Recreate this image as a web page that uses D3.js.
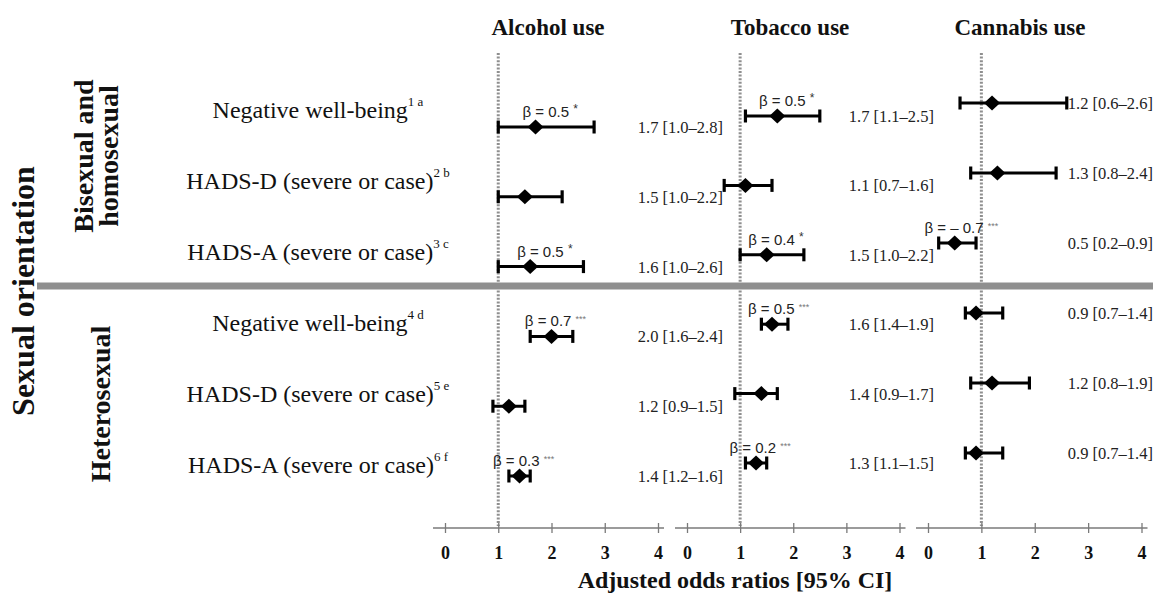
<!DOCTYPE html>
<html>
<head>
<meta charset="utf-8">
<script src="https://cdn.jsdelivr.net/npm/d3@7"></script>
<style>
  html, body { margin: 0; padding: 0; background: #fff; }
  svg { display: block; }
</style>
</head>
<body>
<svg id="chart" width="1161" height="597"></svg>
<script>
// ---------------- DATA ----------------
const outcomes = ["Negative well-being", "HADS-D (severe or case)", "HADS-A (severe or case)",
                  "Negative well-being", "HADS-D (severe or case)", "HADS-A (severe or case)"];
const footnotes = ["1 a", "2 b", "3 c", "4 d", "5 e", "6 f"];
const groupLabels = [["Bisexual and", "homosexual"], ["Heterosexual"]];
const mainLabel = "Sexual orientation";
const substances = ["Alcohol use", "Tobacco use", "Cannabis use"];
const tickValues = [0, 1, 2, 3, 4];
const axisTitle = "Adjusted odds ratios [95% CI]";

const alcoholOR = [1.7, 1.5, 1.6, 2.0, 1.2, 1.4];
const alcoholLo = [1.0, 1.0, 1.0, 1.6, 0.9, 1.2];
const alcoholHi = [2.8, 2.2, 2.6, 2.4, 1.5, 1.6];
const alcoholBeta = ["0.5", "", "0.5", "0.7", "", "0.3"];
const alcoholSig  = ["*", "", "*", "***", "", "***"];

const tobaccoOR = [1.7, 1.1, 1.5, 1.6, 1.4, 1.3];
const tobaccoLo = [1.1, 0.7, 1.0, 1.4, 0.9, 1.1];
const tobaccoHi = [2.5, 1.6, 2.2, 1.9, 1.7, 1.5];
const tobaccoBeta = ["0.5", "", "0.4", "0.5", "", "0.2"];
const tobaccoSig  = ["*", "", "*", "***", "", "***"];

const cannabisOR = [1.2, 1.3, 0.5, 0.9, 1.2, 0.9];
const cannabisLo = [0.6, 0.8, 0.2, 0.7, 0.8, 0.7];
const cannabisHi = [2.6, 2.4, 0.9, 1.4, 1.9, 1.4];
const cannabisBeta = ["", "", "\u2013 0.7", "", "", ""];
const cannabisSig  = ["", "", "***", "", "", ""];

// ---------------- LAYOUT ----------------
const serif = "'Liberation Serif', 'Times New Roman', serif";
const sans = "'Liberation Sans', Arial, sans-serif";
const svg = d3.select("#chart");

const panels = [
  { name: substances[0], or: alcoholOR, lo: alcoholLo, hi: alcoholHi, beta: alcoholBeta, sig: alcoholSig,
    xr: [445, 658], yr: [127, 476], titleX: 548, valueX: 723 },
  { name: substances[1], or: tobaccoOR, lo: tobaccoLo, hi: tobaccoHi, beta: tobaccoBeta, sig: tobaccoSig,
    xr: [687, 899.5], yr: [116, 463], titleX: 790, valueX: 934 },
  { name: substances[2], or: cannabisOR, lo: cannabisLo, hi: cannabisHi, beta: cannabisBeta, sig: cannabisSig,
    xr: [928, 1141.5], yr: [103, 453], titleX: 1020, valueX: 1153 }
];

const axisY = 528;
const rowIdx = d3.range(outcomes.length);

// dotted reference lines (drawn first, under the separator band)
panels.forEach(p => {
  p.x = d3.scaleLinear().domain([0, 4]).range(p.xr);
  p.y = d3.scalePoint().domain(rowIdx).range(p.yr);
  svg.append("line")
    .attr("x1", p.x(1)).attr("x2", p.x(1))
    .attr("y1", 53).attr("y2", axisY - 2)
    .attr("stroke", "#8f8f8f").attr("stroke-width", 3)
    .attr("stroke-dasharray", "2,1.6");
});

// separator band between groups
svg.append("rect")
  .attr("x", 37).attr("y", 282.5).attr("width", 1116).attr("height", 7)
  .attr("fill", "#8f8f8f");

panels.forEach(p => {
  const g = svg.append("g");
  // title
  g.append("text")
    .attr("x", p.titleX).attr("y", 35)
    .attr("text-anchor", "middle")
    .attr("font-family", serif).attr("font-weight", "bold").attr("font-size", 23)
    .attr("fill", "#111")
    .text(p.name);

  // axis
  const ax = g.append("g").attr("transform", `translate(0,${axisY})`);
  ax.append("line")
    .attr("x1", p.x(0) - 12).attr("x2", p.x(4) + 6)
    .attr("stroke", "#7a7a7a").attr("stroke-width", 1.5);
  const axis = d3.axisBottom(p.x).tickValues(tickValues).tickFormat(d3.format("d")).tickSizeOuter(0);
  const axg = ax.append("g").call(axis);
  axg.select(".domain").remove();
  axg.selectAll(".tick line").attr("y1", -5).attr("y2", 5)
    .attr("stroke", "#7a7a7a").attr("stroke-width", 1.3);
  axg.selectAll(".tick text")
    .attr("y", 31).attr("dy", null)
    .attr("font-family", serif).attr("font-weight", "bold").attr("font-size", 18)
    .attr("fill", "#111");

  // rows
  rowIdx.forEach(i => {
    const yy = p.y(i);
    const row = g.append("g");
    row.append("line")
      .attr("x1", p.x(p.lo[i])).attr("x2", p.x(p.hi[i]))
      .attr("y1", yy).attr("y2", yy)
      .attr("stroke", "#000").attr("stroke-width", 3);
    [p.lo[i], p.hi[i]].forEach(v => {
      row.append("line")
        .attr("x1", p.x(v)).attr("x2", p.x(v))
        .attr("y1", yy - 6.5).attr("y2", yy + 6.5)
        .attr("stroke", "#000").attr("stroke-width", 3.2);
    });
    row.append("path")
      .attr("d", "M0,-7.5L8,0L0,7.5L-8,0Z")
      .attr("transform", `translate(${p.x(p.or[i])},${yy})`)
      .attr("fill", "#000");

    // value label
    row.append("text")
      .attr("x", p.valueX).attr("y", yy + 6)
      .attr("text-anchor", "end")
      .attr("font-family", serif).attr("font-size", 16.5)
      .attr("fill", "#222")
      .text(`${p.or[i].toFixed(1)} [${p.lo[i].toFixed(1)}\u2013${p.hi[i].toFixed(1)}]`);

    // beta annotation
    if (p.beta[i]) {
      const t = row.append("text")
        .attr("x", (p.x(p.lo[i]) + p.x(p.hi[i])) / 2 + 4)
        .attr("y", yy - 10)
        .attr("text-anchor", "middle")
        .attr("font-family", sans).attr("font-size", 15)
        .attr("fill", "#222");
      t.append("tspan").text(`\u03b2 = ${p.beta[i]} `);
      const one = p.sig[i].length === 1;
      t.append("tspan").attr("dy", -4)
        .attr("font-size", one ? 12 : 9)
        .attr("fill", one ? "#333" : "#777").text(p.sig[i]);
    }
  });
});

// row labels
const labelY = d3.scalePoint().domain(rowIdx).range([118, 473]);
rowIdx.forEach(i => {
  const t = svg.append("text")
    .attr("x", 318).attr("y", labelY(i))
    .attr("text-anchor", "middle")
    .attr("font-family", serif).attr("font-size", 24)
    .attr("fill", "#111");
  t.append("tspan").text(outcomes[i]);
  t.append("tspan").attr("dy", -12).attr("font-size", 13).text(footnotes[i].replace(" ", "\u00a0"));
});

// group labels (rotated)
const groupPos = [ { x: [93, 118], y: 156 }, { x: [110], y: 404 } ];
groupLabels.forEach((lines, gi) => {
  lines.forEach((ln, li) => {
    svg.append("text")
      .attr("transform", `translate(${groupPos[gi].x[li]},${groupPos[gi].y}) rotate(-90)`)
      .attr("text-anchor", "middle")
      .attr("font-family", serif).attr("font-weight", "bold").attr("font-size", 28)
      .attr("fill", "#111")
      .text(ln);
  });
});

svg.append("text")
  .attr("transform", "translate(34,291) rotate(-90)")
  .attr("text-anchor", "middle")
  .attr("font-family", serif).attr("font-weight", "bold").attr("font-size", 32)
  .attr("fill", "#111")
  .text(mainLabel);

// axis title
svg.append("text")
  .attr("x", 735).attr("y", 588)
  .attr("text-anchor", "middle")
  .attr("font-family", serif).attr("font-weight", "bold").attr("font-size", 24)
  .attr("fill", "#111")
  .text(axisTitle);
</script>
</body>
</html>
